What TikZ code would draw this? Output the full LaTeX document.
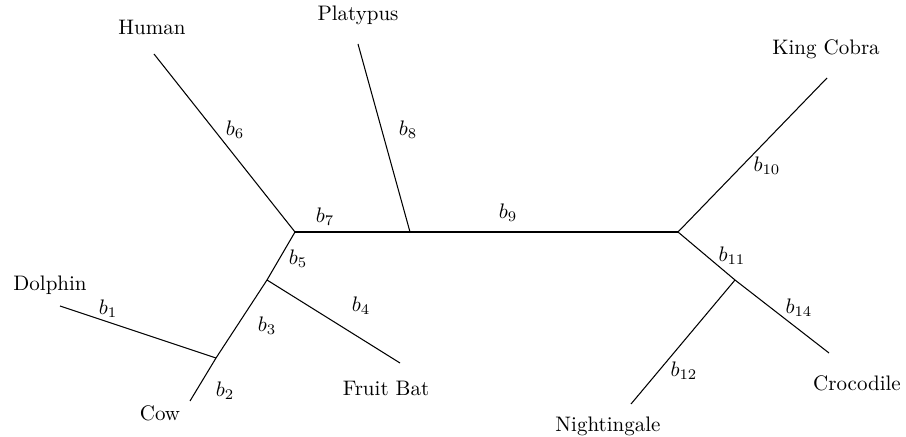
\documentclass[tikz,border=0pt]{standalone}
\begin{document}
\begin{tikzpicture}[x=0.476pt,y=-0.476pt,
  branch/.style={draw=black,line width=0.5pt},
  taxon/.style={inner sep=0pt,font=\normalsize},
  blabel/.style={inner sep=0pt}]
\useasboundingbox (0,0) rectangle (906,437);
% internal nodes
\coordinate (A) at (295,232);
\coordinate (B) at (410,232);
\coordinate (C) at (678,232);
\coordinate (D) at (735,280);
\coordinate (E) at (267,280);
\coordinate (F) at (216,358);
% leaf ends
\coordinate (hum) at (154,54);
\coordinate (pla) at (358,44);
\coordinate (kc) at (827,78);
\coordinate (dol) at (60,306);
\coordinate (cow) at (190,401);
\coordinate (fb) at (400,363);
\coordinate (cro) at (829,353);
\coordinate (nig) at (631,404);
% taxa labels
\node[taxon] (tHum) at (152,27) {Human};
\node[taxon] (tPla) at (358,15) {Platypus};
\node[taxon] (tKC) at (826,49) {King Cobra};
\node[taxon] (tDol) at (50,285) {Dolphin};
\node[taxon] (tCow) at (160,413) {Cow};
\node[taxon] (tFB) at (386,388) {Fruit Bat};
\node[taxon] (tCro) at (857,383) {Crocodile};
\node[taxon] (tNig) at (608,426) {Nightingale};
% branches
\draw[branch] (hum) -- (A);
\draw[branch] (pla) -- (B);
\draw[branch] (A) -- (B);
\draw[branch] (B) -- (C);
\draw[branch] (C) -- (kc);
\draw[branch] (C) -- (D);
\draw[branch] (D) -- (cro);
\draw[branch] (D) -- (nig);
\draw[branch] (A) -- (E);
\draw[branch] (E) -- (fb);
\draw[branch] (E) -- (F);
\draw[branch] (F) -- (cow);
\draw[branch] (dol) -- (F);
% branch labels
\node[blabel] (l1) at (108,309) {$b_1$};
\node[blabel] (l2) at (225,391) {$b_2$};
\node[blabel] (l3) at (267,326) {$b_3$};
\node[blabel] (l4) at (361,306) {$b_4$};
\node[blabel] (l5) at (298,259) {$b_5$};
\node[blabel] (l6) at (235,130) {$b_6$};
\node[blabel] (l7) at (325,217) {$b_7$};
\node[blabel] (l8) at (408,130) {$b_8$};
\node[blabel] (l9) at (508,213) {$b_9$};
\node[blabel] (l10) at (767,166) {$b_{10}$};
\node[blabel] (l11) at (732,256) {$b_{11}$};
\node[blabel] (l14) at (799,308) {$b_{14}$};
\node[blabel] (l12) at (684,371) {$b_{12}$};
\end{tikzpicture}
\end{document}
